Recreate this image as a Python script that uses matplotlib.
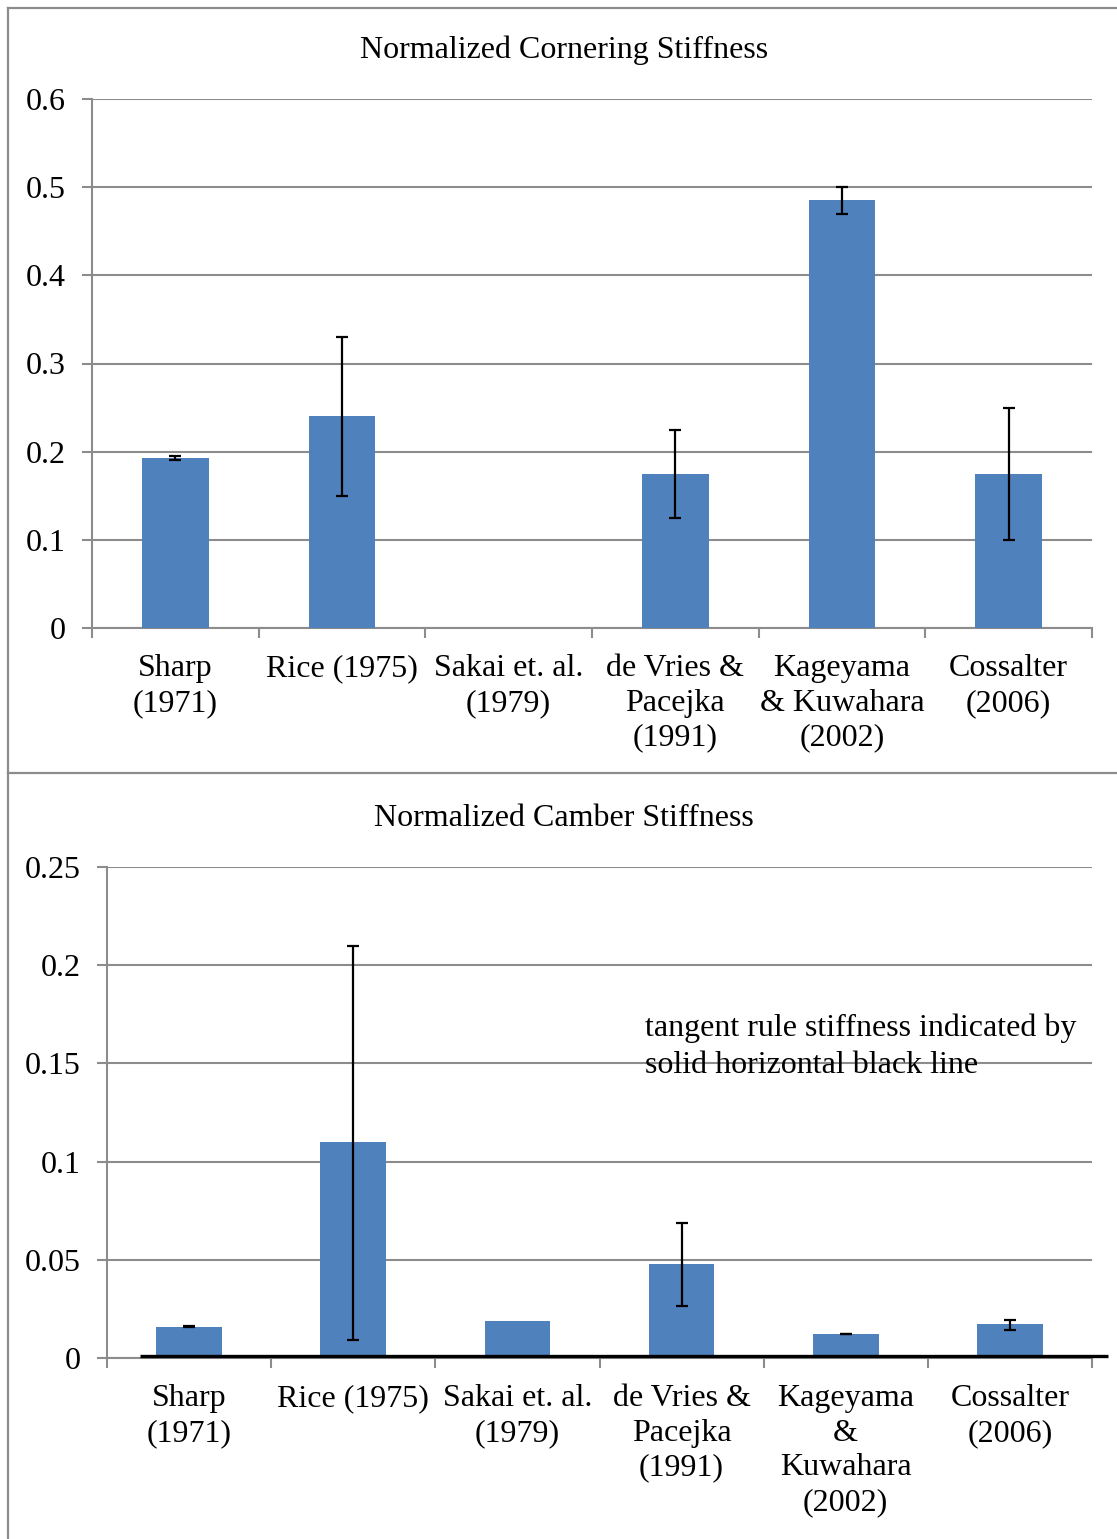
import matplotlib
matplotlib.use("Agg")
import matplotlib.pyplot as plt
from matplotlib.lines import Line2D
import numpy as np

plt.rcParams['font.family'] = ['Liberation Serif', 'DejaVu Serif']

# ---- data ----
cats_top = ["Sharp\n(1971)", "Rice (1975)", "Sakai et. al.\n(1979)",
            "de Vries &\nPacejka\n(1991)", "Kageyama\n& Kuwahara\n(2002)", "Cossalter\n(2006)"]
cats_bot = ["Sharp\n(1971)", "Rice (1975)", "Sakai et. al.\n(1979)",
            "de Vries &\nPacejka\n(1991)", "Kageyama\n&\nKuwahara\n(2002)", "Cossalter\n(2006)"]

corner_vals = [0.193, 0.240, 0.0, 0.175, 0.485, 0.175]
corner_low = [0.1905, 0.150, np.nan, 0.125, 0.470, 0.100]
corner_high = [0.195, 0.330, np.nan, 0.225, 0.500, 0.250]

camber_vals = [0.016, 0.110, 0.019, 0.048, 0.0123, 0.0172]
camber_low = [0.0158, 0.009, np.nan, 0.0265, 0.0122, 0.0145]
camber_high = [0.0162, 0.210, np.nan, 0.0687, 0.0124, 0.0196]

tangent_rule = 0.001

top_yticks = [0, 0.1, 0.2, 0.3, 0.4, 0.5, 0.6]
top_ylabels = ["0", "0.1", "0.2", "0.3", "0.4", "0.5", "0.6"]
bot_yticks = [0, 0.05, 0.1, 0.15, 0.2, 0.25]
bot_ylabels = ["0", "0.05", "0.1", "0.15", "0.2", "0.25"]

BAR = "#4F81BD"
GRID = "#8C8C8C"
FS = 23

W, H = 1117, 1539
fig = plt.figure(figsize=(W / 100, H / 100), dpi=100)


def fx(px):
    return px / W


def fy(py):
    return 1 - py / H


def panel(ax, cats, vals, low, high, yticks, ylabels, ymax):
    x = np.arange(len(cats))
    vals = np.array(vals)
    ax.bar(x, vals, width=0.4, color=BAR, zorder=3)
    lo = np.array(low)
    hi = np.array(high)
    mask = ~np.isnan(lo)
    yerr = np.vstack([vals[mask] - lo[mask], hi[mask] - vals[mask]])
    ax.errorbar(x[mask], vals[mask], yerr=yerr, fmt='none', ecolor='black',
                elinewidth=1.6, capsize=4.3, capthick=1.6, zorder=4)
    ax.set_xlim(-0.5, len(cats) - 0.5)
    ax.set_ylim(0, ymax)
    ax.set_yticks(yticks)
    ax.set_yticklabels(ylabels, fontsize=FS)
    ax.set_xticks(np.arange(len(cats) + 1) - 0.5)
    ax.set_xticklabels([])
    ax.set_xticks(x, minor=True)
    ax.set_xticklabels(cats, minor=True, fontsize=FS, linespacing=1.25)
    ax.tick_params(axis='x', which='minor', length=0, pad=19)
    ax.tick_params(axis='x', which='major', length=7, width=1.5, color=GRID, direction='out')
    ax.tick_params(axis='y', length=7, width=1.5, color=GRID, pad=12)
    ax.yaxis.grid(True, color=GRID, linewidth=1.5, zorder=0)
    ax.set_axisbelow(True)
    for s in ['top', 'right']:
        ax.spines[s].set_visible(False)
    for s in ['left', 'bottom']:
        ax.spines[s].set_color(GRID)
        ax.spines[s].set_linewidth(1.5)


ax1 = fig.add_axes([fx(92), fy(628), fx(1092) - fx(92), fy(99) - fy(628)])
panel(ax1, cats_top, corner_vals, corner_low, corner_high, top_yticks, top_ylabels, 0.6)

ax2 = fig.add_axes([fx(107), fy(1358), fx(1092) - fx(107), fy(867) - fy(1358)])
panel(ax2, cats_bot, camber_vals, camber_low, camber_high, bot_yticks, bot_ylabels, 0.25)
ax2.plot([-0.3, 5.6], [tangent_rule, tangent_rule], color='black', lw=2.4,
         zorder=5, clip_on=False, solid_capstyle='butt')
ax2.text(0.546, 0.701, "tangent rule stiffness indicated by\nsolid horizontal black line",
         transform=ax2.transAxes, fontsize=FS, ha='left', va='top', linespacing=1.33, zorder=6)

fig.text(fx(564), fy(50), "Normalized Cornering Stiffness", fontsize=FS, ha='center', va='center')
fig.text(fx(564), fy(818), "Normalized Camber Stiffness", fontsize=FS, ha='center', va='center')

# panel frames
for coords in [([fx(8), fx(8)], [fy(8), fy(1539)]),
               ([fx(8), 1], [fy(8), fy(8)]),
               ([fx(8), 1], [fy(773), fy(773)])]:
    fig.add_artist(Line2D(coords[0], coords[1], color=GRID, lw=1.6,
                          transform=fig.transFigure))

fig.savefig("out.png", dpi=100)
